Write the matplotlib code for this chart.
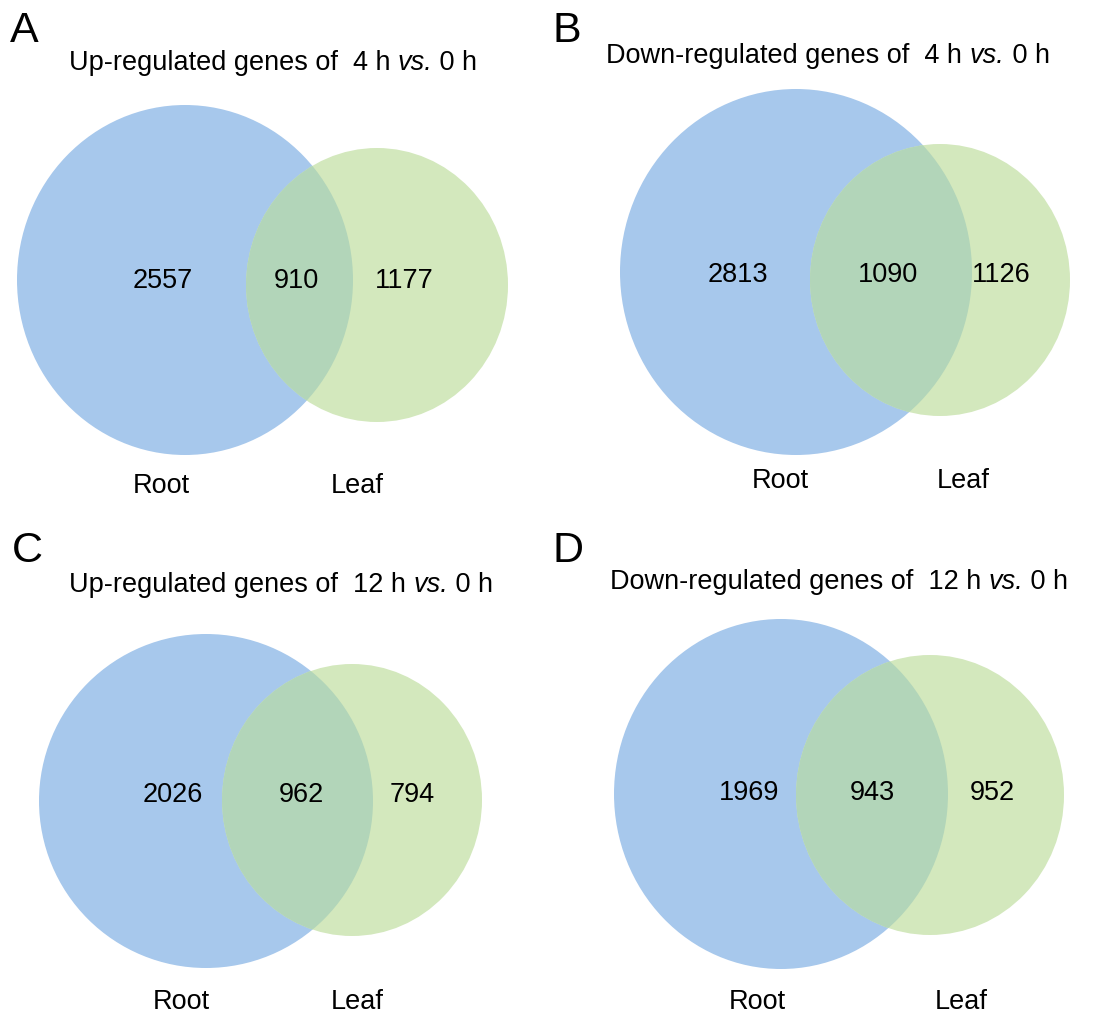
import matplotlib
matplotlib.use("Agg")
import matplotlib.pyplot as plt
from matplotlib.patches import Ellipse

plt.rcParams['font.family'] = ['Liberation Sans', 'DejaVu Sans']

# 数据
panel_letters = ['A', 'B', 'C', 'D']
title_heads = ['Up-regulated genes of  4 h ', 'Down-regulated genes of  4 h ',
               'Up-regulated genes of  12 h ', 'Down-regulated genes of  12 h ']
title_mid = 'vs.'
title_tail = ' 0 h'
set_names = ['Root', 'Leaf']
root_only = [2557, 2813, 2026, 1969]
shared = [910, 1090, 962, 943]
leaf_only = [1177, 1126, 794, 952]

# 布局 (像素坐标): 中心x, 中心y, 半径x, 半径y
root_shape = [(185, 280, 168, 175), (796, 272, 176, 183),
              (206, 801, 167, 167), (781, 794, 167, 175)]
leaf_shape = [(377, 285, 131, 137), (940, 280, 130, 136),
              (352, 800, 130, 136), (930, 795, 134, 140)]
letter_pos = [(10, 42), (553, 42), (12, 562), (553, 562)]
title_pos = [(273, 70), (828, 63), (281, 592), (839, 589)]
num_y = [288, 282, 802, 800]
num_x = [(163, 296, 404), (738, 888, 1001), (173, 301, 412), (749, 872, 992)]
name_y = [493, 488, 1009, 1009]
name_x = [(161, 357), (780, 963), (181, 357), (757, 961)]

blue = '#a7c8ec'
green = '#d3e8bd'
mix = '#b2d5b9'
fs = 19.5

fig = plt.figure(figsize=(11.03, 10.15), dpi=100)
ax = fig.add_axes([0, 0, 1, 1])
ax.set_xlim(0, 1103)
ax.set_ylim(1015, 0)
ax.set_aspect('equal')
ax.axis('off')
renderer = fig.canvas.get_renderer()

for i in range(4):
    rx, ry, rw, rh = root_shape[i]
    lx, ly, lw, lh = leaf_shape[i]
    e1 = Ellipse((rx, ry), 2 * rw, 2 * rh, facecolor=blue, edgecolor='none')
    e2 = Ellipse((lx, ly), 2 * lw, 2 * lh, facecolor=green, edgecolor='none')
    ax.add_patch(e1)
    ax.add_patch(e2)
    # 交集部分
    e3 = Ellipse((lx, ly), 2 * lw, 2 * lh, facecolor=mix, edgecolor='none')
    ax.add_patch(e3)
    e3.set_clip_path(Ellipse((rx, ry), 2 * rw, 2 * rh, transform=ax.transData))

    ax.text(letter_pos[i][0], letter_pos[i][1], panel_letters[i], fontsize=31,
            ha='left', va='baseline')

    # 标题: 三段拼接, vs. 为斜体
    parts = [(title_heads[i], 'normal'), (title_mid, 'italic'), (title_tail, 'normal')]
    texts = []
    x = 0
    for s, style in parts:
        t = ax.text(x, title_pos[i][1], s, fontsize=fs, style=style,
                    ha='left', va='baseline')
        w = t.get_window_extent(renderer).width
        texts.append((t, x))
        x += w
    x0 = title_pos[i][0] - x / 2
    for t, off in texts:
        t.set_x(x0 + off)

    vals = [root_only[i], shared[i], leaf_only[i]]
    for xx, v in zip(num_x[i], vals):
        ax.text(xx, num_y[i], str(v), fontsize=fs, ha='center', va='baseline')
    for xx, name in zip(name_x[i], set_names):
        ax.text(xx, name_y[i], name, fontsize=fs, ha='center', va='baseline')

plt.savefig('out.png', dpi=100)
